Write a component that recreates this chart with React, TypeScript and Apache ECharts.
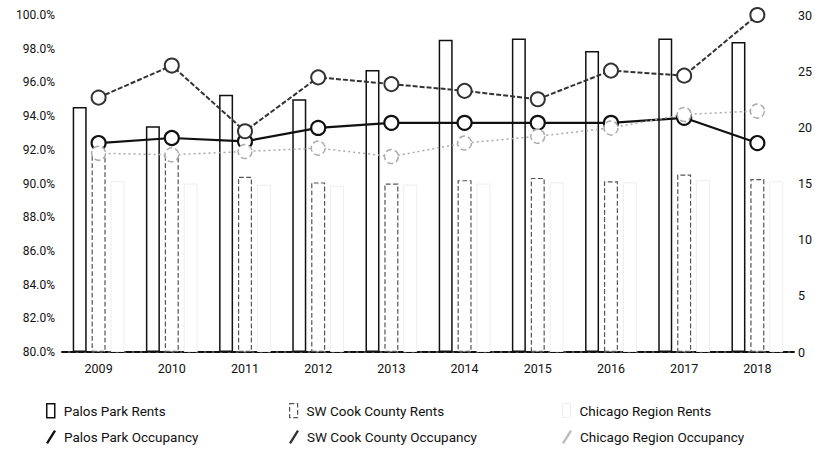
import React, { useEffect, useRef } from "react";
import * as echarts from "echarts";

const years = ["2009", "2010", "2011", "2012", "2013", "2014", "2015", "2016", "2017", "2018"];
const palosRents = [21.8, 20.1, 22.9, 22.5, 25.1, 27.8, 27.9, 26.8, 27.9, 27.6];
const swCookRents = [17.6, 17.6, 15.6, 15.1, 15.0, 15.3, 15.5, 15.2, 15.8, 15.4];
const chicagoRents = [15.2, 15.0, 14.9, 14.8, 14.9, 15.0, 15.1, 15.1, 15.3, 15.2];
const palosOcc = [92.4, 92.7, 92.5, 93.3, 93.6, 93.6, 93.6, 93.6, 93.9, 92.4];
const swCookOcc = [95.1, 97.0, 93.1, 96.3, 95.9, 95.5, 95.0, 96.7, 96.4, 100.0];
const chicagoOcc = [91.8, 91.7, 91.9, 92.1, 91.6, 92.4, 92.8, 93.3, 94.1, 94.3];

const FONT = "Roboto, 'Noto Sans', sans-serif";

const rectIcon = "path://M0,0 L8,0 L8,14 L0,14 Z";
const slashIcon = "path://M8,0 L10,1.2 L2,14 L0,12.8 Z";

function legendAt(name: string, left: number, top: number, icon: string, style: any) {
  return {
    left,
    top,
    orient: "horizontal",
    itemWidth: 16,
    itemHeight: 14,
    selectedMode: false,
    textStyle: { fontFamily: FONT, fontSize: 13.5, color: "#111" },
    data: [{ name, icon, itemStyle: style }],
  };
}

export default function App() {
  const ref = useRef<HTMLDivElement>(null);
  useEffect(() => {
    if (!ref.current) return;
    const chart = echarts.init(ref.current, undefined, { renderer: "svg" });
    const markerBase = { symbol: "circle", symbolSize: 14, yAxisIndex: 0, z: 5 };
    chart.setOption({
      animation: false,
      backgroundColor: "#fff",
      grid: { left: 62, right: 18, top: 15, bottom: 105, containLabel: false },
      legend: [
        legendAt("Palos Park Rents", 41, 398, rectIcon, { color: "#fff", borderColor: "#111", borderWidth: 1.5 }),
        legendAt("SW Cook County Rents", 284, 398, rectIcon, { color: "#fff", borderColor: "#555", borderWidth: 1.2, borderType: "dashed" }),
        legendAt("Chicago Region Rents", 557, 398, rectIcon, { color: "#fff", borderColor: "#eee", borderWidth: 1 }),
        legendAt("Palos Park Occupancy", 41, 425, slashIcon, { color: "#111", borderWidth: 0 }),
        legendAt("SW Cook County Occupancy", 284, 425, slashIcon, { color: "#333", borderWidth: 0 }),
        legendAt("Chicago Region Occupancy", 557, 425, slashIcon, { color: "#bbb", borderWidth: 0 }),
      ],
      xAxis: {
        type: "category",
        data: years,
        boundaryGap: true,
        axisLine: { show: true, lineStyle: { color: "#111", width: 2, type: [6, 2] } },
        axisTick: { show: false },
        axisLabel: { fontFamily: FONT, fontSize: 12.5, color: "#111", margin: 10 },
        splitLine: { show: false },
      },
      yAxis: [
        {
          type: "value",
          min: 80,
          max: 100,
          interval: 2,
          position: "left",
          axisLine: { show: false },
          axisTick: { show: false },
          splitLine: { show: false },
          axisLabel: {
            fontFamily: FONT,
            fontSize: 12,
            color: "#111",
            margin: 7,
            formatter: (v: number) => v.toFixed(1) + "%",
          },
        },
        {
          type: "value",
          min: 0,
          max: 30,
          interval: 5,
          position: "right",
          axisLine: { show: false },
          axisTick: { show: false },
          splitLine: { show: false },
          axisLabel: { fontFamily: FONT, fontSize: 12.5, color: "#111", margin: 4 },
        },
      ],
      series: [
        {
          name: "Palos Park Rents",
          type: "bar",
          yAxisIndex: 1,
          data: palosRents,
          barWidth: 14,
          barGap: "35%",
          itemStyle: { color: "#fff", borderColor: "#111", borderWidth: 1.5 },
        },
        {
          name: "SW Cook County Rents",
          type: "bar",
          yAxisIndex: 1,
          data: swCookRents,
          barWidth: 14,
          barGap: "35%",
          itemStyle: { color: "#fff", borderColor: "#555", borderWidth: 1.2, borderType: "dashed" },
        },
        {
          name: "Chicago Region Rents",
          type: "bar",
          yAxisIndex: 1,
          data: chicagoRents,
          barWidth: 14,
          barGap: "35%",
          itemStyle: { color: "#fff", borderColor: "#eeeeee", borderWidth: 1 },
        },
        {
          ...markerBase,
          name: "Palos Park Occupancy",
          type: "line",
          data: palosOcc,
          lineStyle: { color: "#111", width: 2.2 },
          itemStyle: { color: "#fff", borderColor: "#111", borderWidth: 2.2 },
        },
        {
          ...markerBase,
          name: "SW Cook County Occupancy",
          type: "line",
          data: swCookOcc,
          lineStyle: { color: "#333", width: 2, type: [5, 2] },
          itemStyle: { color: "#fff", borderColor: "#333", borderWidth: 2 },
        },
        {
          ...markerBase,
          name: "Chicago Region Occupancy",
          type: "line",
          data: chicagoOcc,
          lineStyle: { color: "#aaa", width: 1.5, type: [2, 3] },
          itemStyle: { color: "#fff", borderColor: "#aaa", borderWidth: 1.5, borderType: "dashed" },
        },
      ],
    });
    return () => chart.dispose();
  }, []);
  return <div ref={ref} style={{ width: 815, height: 457, position: "absolute", left: 0, top: 0 }} />;
}
